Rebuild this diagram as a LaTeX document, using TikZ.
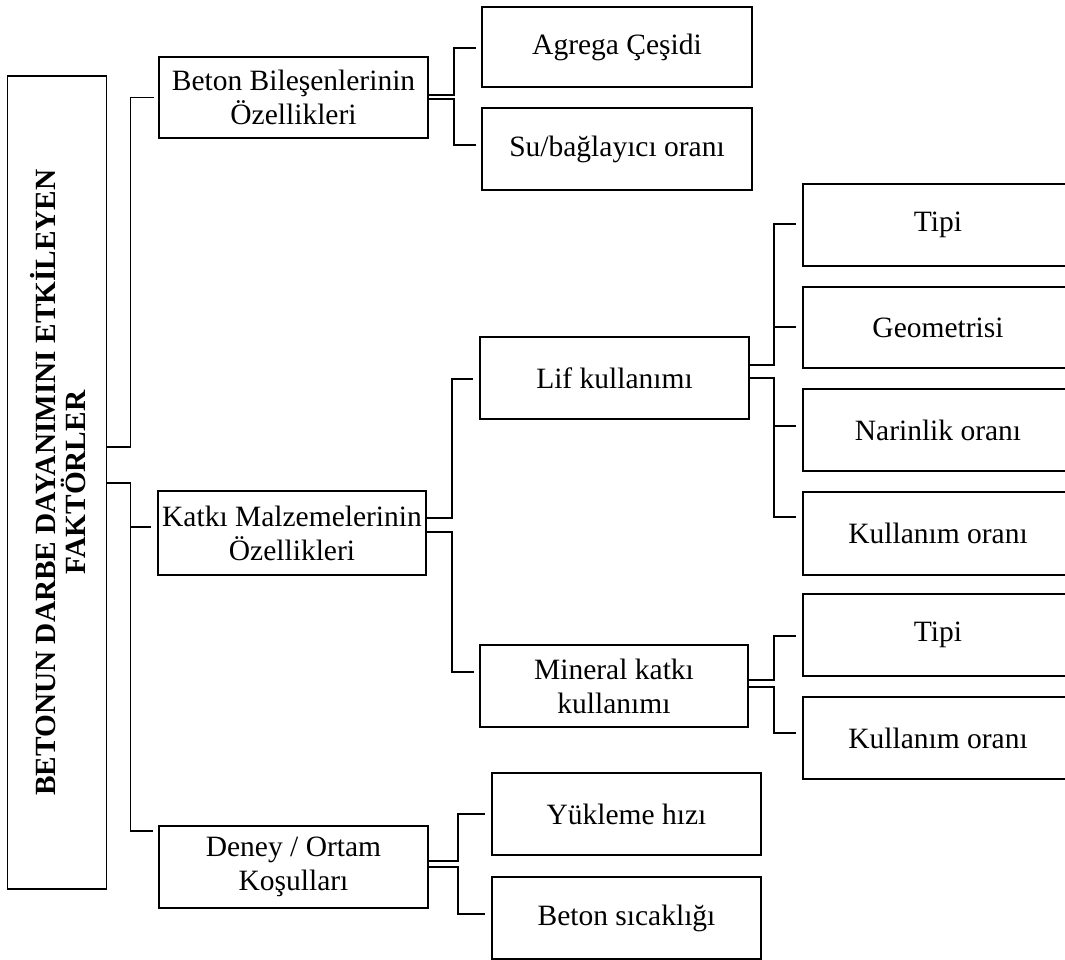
\documentclass[tikz,border=0pt]{standalone}
\usepackage{fontspec}
\setmainfont{Liberation Serif}
\begin{document}
\begin{tikzpicture}[x=1pt,y=-1pt,
  box/.style={draw, line width=1.9pt, inner sep=0pt, align=center,
    font=\fontsize{29.5}{34}\selectfont},
  conn/.style={draw, line width=1.9pt}]
\useasboundingbox (0,0) rectangle (1065,960);
% root
\node[box, minimum width=99pt, minimum height=813pt] (root) at (57,482.5) {};
\node[rotate=90, align=center, inner sep=0pt,
  font=\fontsize{29.3}{30}\bfseries\selectfont] (roottxt) at ([xshift=1pt]root.center)
  {BETONUN DARBE DAYANIMINI ETKİLEYEN\\FAKTÖRLER};
% level 1
\node[box, minimum width=269pt, minimum height=81pt] (beton) at (293.5,97.5) {Beton Bileşenlerinin\\Özellikleri};
\node[box, minimum width=268pt, minimum height=84pt] (katki) at (292,533) {Katkı Malzemelerinin\\Özellikleri};
\node[box, minimum width=269pt, minimum height=82pt] (deney) at (293.5,867) {Deney / Ortam\\Koşulları};
% level 2
\node[box, minimum width=270pt, minimum height=80pt] (agrega) at (617,47) {Agrega Çeşidi};
\node[box, minimum width=270pt, minimum height=82pt] (su) at (617,149) {Su/bağlayıcı oranı};
\node[box, minimum width=269pt, minimum height=82pt] (lif) at (614.5,378) {Lif kullanımı};
\node[box, minimum width=268pt, minimum height=82pt] (mineral) at (614,686) {Mineral katkı\\kullanımı};
\node[box, minimum width=269pt, minimum height=82pt] (yukleme) at (626.5,814) {Yükleme hızı};
\node[box, minimum width=269pt, minimum height=82pt] (sicaklik) at (626.5,918) {Beton sıcaklığı};
% level 3
\node[box, minimum width=270pt, minimum height=82pt] (tipi) at (938,225) {Tipi};
\node[box, minimum width=270pt, minimum height=81pt] (geo) at (938,327.5) {Geometrisi};
\node[box, minimum width=270pt, minimum height=82pt] (narin) at (938,430) {Narinlik oranı};
\node[box, minimum width=270pt, minimum height=83pt] (kul) at (938,533.5) {Kullanım oranı};
\node[box, minimum width=270pt, minimum height=82pt] (tipib) at (938,635) {Tipi};
\node[box, minimum width=270pt, minimum height=82pt] (kulb) at (938,738) {Kullanım oranı};
% connectors: root
\draw[conn] ([yshift=35.5pt]root.east) -- ++(23,0) |- ([xshift=-4pt]beton.west);
\draw[conn] ([yshift=-0.5pt]root.east) -- ++(23,0) |- ([xshift=-6pt,yshift=6pt]katki.west);
\draw[conn] ([yshift=-0.5pt]root.east) -- ++(23,0) |- ([xshift=-5pt,yshift=36pt]deney.west);
% beton
\draw[conn] ([yshift=2.5pt]beton.east) -- ++(25,0) |- ([xshift=-5pt,yshift=-1pt]agrega.west);
\draw[conn] ([yshift=-1.5pt]beton.east) -- ++(25,0) |- ([xshift=-5pt,yshift=4pt]su.west);
% katki
\draw[conn] ([yshift=15pt]katki.east) -- ++(25,0) |- ([xshift=-6pt,yshift=-1pt]lif.west);
\draw[conn] ([yshift=1pt]katki.east) -- ++(25,0) |- ([xshift=-5pt,yshift=14pt]mineral.west);
% lif
\draw[conn] ([yshift=13pt]lif.east) -- ++(24,0) |- ([xshift=-6pt,yshift=1pt]tipi.west);
\draw[conn] ([yshift=13pt]lif.east) -- ++(24,0) |- ([xshift=-6pt,yshift=0.5pt]geo.west);
\draw[conn] (lif.east) -- ++(24,0) |- ([xshift=-6pt,yshift=4pt]narin.west);
\draw[conn] (lif.east) -- ++(24,0) |- ([xshift=-6pt,yshift=16.5pt]kul.west);
% mineral
\draw[conn] ([yshift=6pt]mineral.east) -- ++(25,0) |- ([xshift=-6pt,yshift=-1pt]tipib.west);
\draw[conn] ([yshift=-1pt]mineral.east) -- ++(25,0) |- ([xshift=-6pt,yshift=5pt]kulb.west);
% deney
\draw[conn] ([yshift=6pt]deney.east) -- ++(29,0) |- ([xshift=-6pt]yukleme.west);
\draw[conn] (deney.east) -- ++(29,0) |- ([xshift=-6pt,yshift=4pt]sicaklik.west);
\end{tikzpicture}
\end{document}
